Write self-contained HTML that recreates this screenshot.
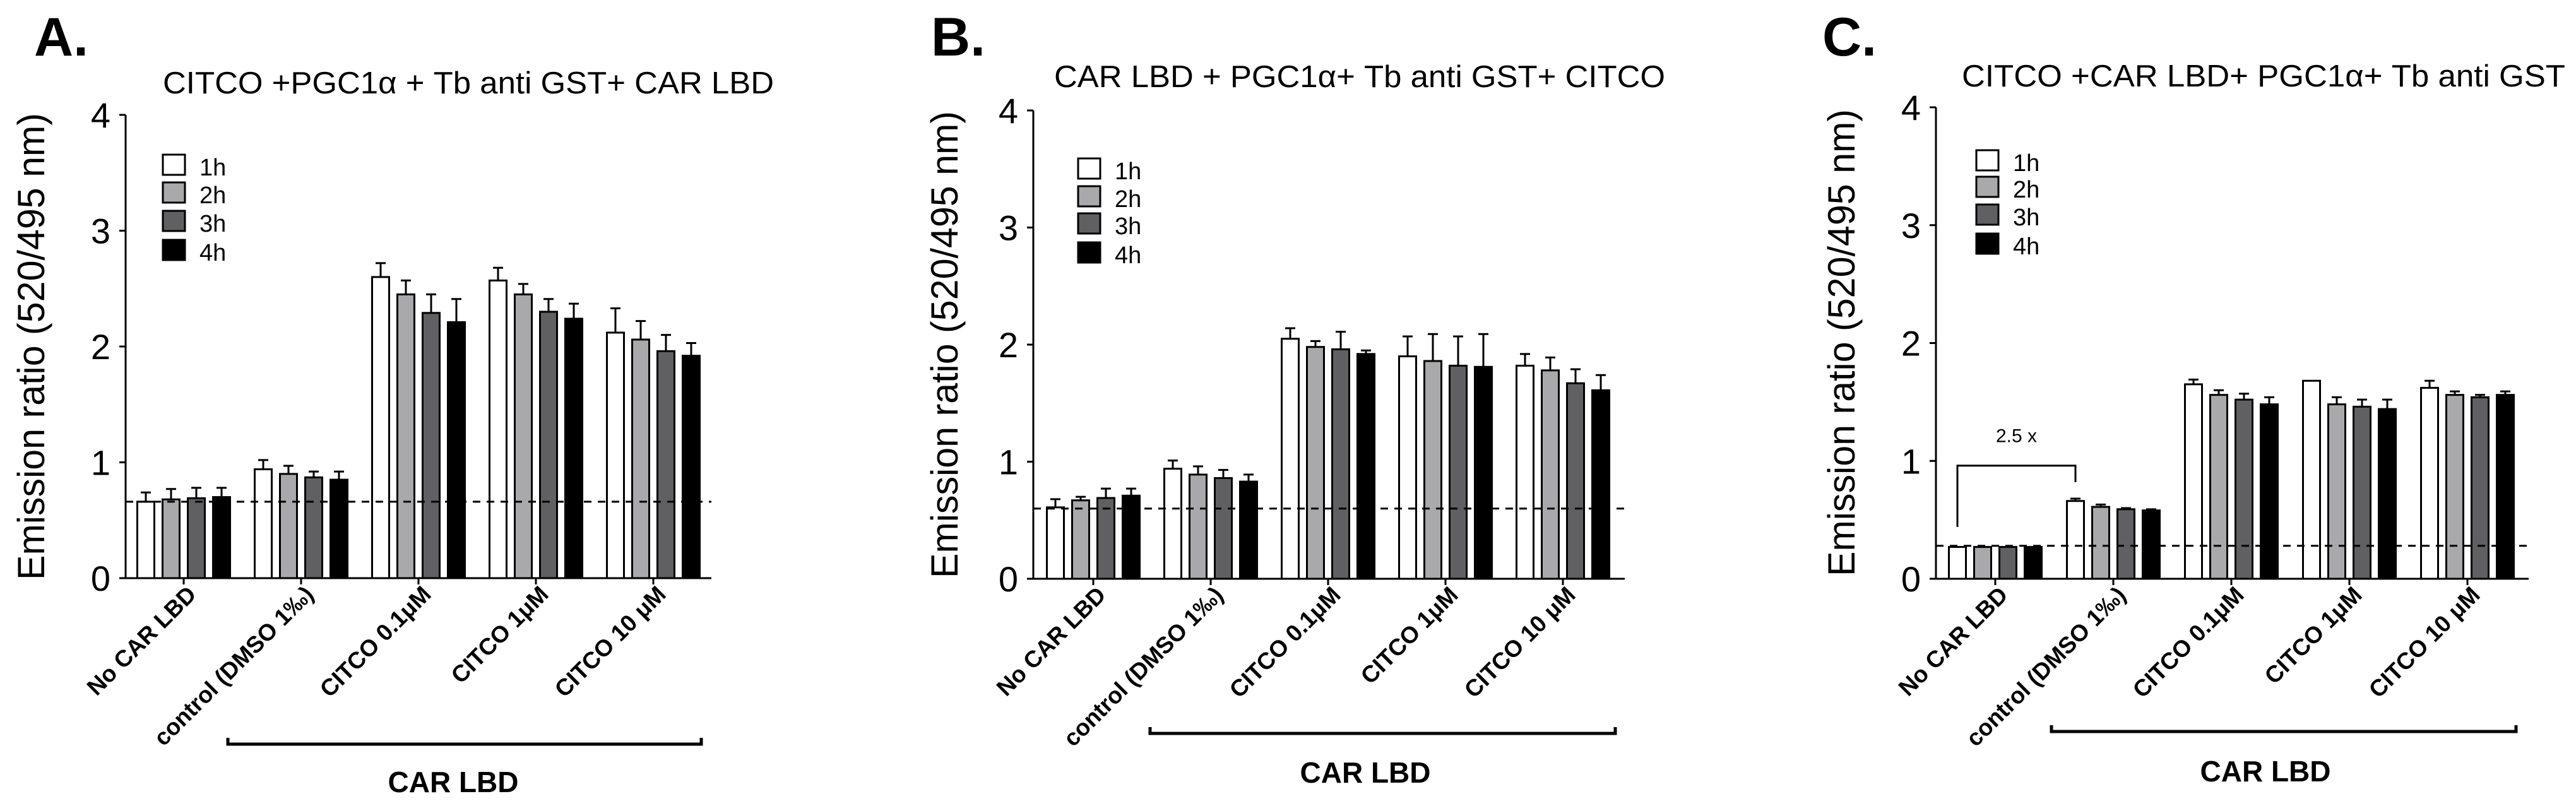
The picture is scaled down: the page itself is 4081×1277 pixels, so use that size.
<!DOCTYPE html>
<html><head><meta charset="utf-8"><style>
html,body{margin:0;padding:0;background:#fff;}
svg{display:block;font-family:"Liberation Sans",Arial,sans-serif;}
</style></head><body>
<svg id="fig" width="4081" height="1277" viewBox="0 0 4081 1277" xmlns="http://www.w3.org/2000/svg"></svg>
<script>
const categories = ["No CAR LBD","control (DMSO 1\u2030)","CITCO 0.1\u03bcM","CITCO 1\u03bcM","CITCO 10 \u03bcM"];
const seriesLabels = ["1h","2h","3h","4h"];
const yTicks = [0,1,2,3,4];
// Panel A
const a1h = [0.66,0.94,2.60,2.57,2.12];
const a2h = [0.68,0.90,2.45,2.45,2.06];
const a3h = [0.69,0.87,2.29,2.30,1.96];
const a4h = [0.70,0.85,2.21,2.24,1.92];
const a1hErr = [0.74,1.02,2.72,2.68,2.33];
const a2hErr = [0.77,0.97,2.57,2.54,2.22];
const a3hErr = [0.78,0.92,2.45,2.41,2.10];
const a4hErr = [0.78,0.92,2.41,2.37,2.03];
const aBaseline = 0.66;
// Panel B
const b1h = [0.61,0.94,2.05,1.90,1.82];
const b2h = [0.67,0.89,1.98,1.86,1.78];
const b3h = [0.69,0.86,1.96,1.82,1.67];
const b4h = [0.71,0.83,1.92,1.81,1.61];
const b1hErr = [0.68,1.01,2.14,2.07,1.92];
const b2hErr = [0.70,0.96,2.03,2.09,1.89];
const b3hErr = [0.77,0.93,2.11,2.07,1.79];
const b4hErr = [0.77,0.89,1.95,2.09,1.74];
const bBaseline = 0.60;
// Panel C
const c1h = [0.27,0.66,1.65,1.68,1.62];
const c2h = [0.27,0.61,1.56,1.48,1.56];
const c3h = [0.27,0.59,1.52,1.46,1.54];
const c4h = [0.27,0.58,1.48,1.44,1.56];
const c1hErr = [0.27,0.68,1.69,1.68,1.68];
const c2hErr = [0.27,0.63,1.60,1.54,1.59];
const c3hErr = [0.27,0.60,1.57,1.52,1.56];
const c4hErr = [0.27,0.59,1.54,1.52,1.59];
const cBaseline = 0.28;
const cFoldLabel = "2.5 x";
const cFoldTop = 0.96, cFoldLeft = 0.44, cFoldRight = 0.82, cFoldText = 1.16;

const NS="http://www.w3.org/2000/svg";
const svg=document.getElementById('fig');
const fills=["#ffffff","#a9a9ab","#606062","#000000"];
function mk(tag,attrs,parent,txt){const e=document.createElementNS(NS,tag);for(const k in attrs)e.setAttribute(k,attrs[k]);if(txt!==undefined)e.textContent=txt;(parent||svg).appendChild(e);return e;}

function panel(cfg){
  const g=mk('g',{});
  
  
  const unit=(cfg.y0-cfg.y4)/4;
  const yS=v=>cfg.y0-v*unit;
  const xS=i=>cfg.tick0+i*cfg.spacing;
  const offs=[-60,-20,20,60];
  const bw=27;
  let t=mk('text',{x:cfg.lx,y:88,'font-size':86,'font-weight':'bold'},g,cfg.letter);
  
  
  t=mk('text',{x:cfg.tx0,y:cfg.ty,'font-size':49,textLength:cfg.tx1-cfg.tx0,lengthAdjust:'spacingAndGlyphs'},g,cfg.title);
  
  
  t=mk('text',{x:0,y:0,'font-size':60,'text-anchor':'middle',textLength:740,lengthAdjust:'spacingAndGlyphs',transform:`translate(${cfg.ytx},${cfg.yty}) rotate(-90)`},g,'Emission ratio (520/495 nm)');
  
  
  cfg.series.forEach((vals,s)=>{
    vals.forEach((v,i)=>{
      const cx=xS(i)+offs[s];
      const r=mk('rect',{x:cx-bw/2,y:yS(v),width:bw,height:yS(0)-yS(v),fill:fills[s],stroke:'#000','stroke-width':3},g);
      
      
      const e=cfg.errs[s][i];
      if(e>v+0.005){
        const p=mk('path',{d:`M${cx} ${yS(v)}V${yS(e)}M${cx-8} ${yS(e)}H${cx+8}`,stroke:'#000','stroke-width':3,fill:'none'},g);
        
        
      }
    });
  });
  let d=mk('line',{x1:cfg.ax,x2:cfg.xEnd,y1:yS(cfg.base),y2:yS(cfg.base),stroke:'#000','stroke-width':3,'stroke-dasharray':'12 10'},g);
  
  
  let a=mk('path',{d:`M${cfg.ax} ${cfg.y4}V${cfg.y0}H${cfg.xEnd}`,stroke:'#000','stroke-width':3,fill:'none'},g);
  
  
  yTicks.forEach(v=>{
    mk('line',{x1:cfg.ax-10,x2:cfg.ax,y1:yS(v),y2:yS(v),stroke:'#000','stroke-width':3},g);
    const tl=mk('text',{x:cfg.ax-24,y:yS(v)+20,'font-size':56,'text-anchor':'end'},g,String(v));
    
    
  });
  categories.forEach((c,i)=>{
    mk('line',{x1:xS(i),x2:xS(i),y1:cfg.y0,y2:cfg.y0+10,stroke:'#000','stroke-width':3},g);
    const cl=mk('text',{x:0,y:0,'font-size':37,'font-weight':'bold','text-anchor':'end',transform:`translate(${xS(i)+22},${cfg.y0+28}) rotate(-45)`},g,c);
    
    
  });
  seriesLabels.forEach((s,k)=>{
    const top=cfg.legY[k];
    const lr=mk('rect',{x:cfg.legX,y:top,width:35,height:32,fill:fills[k],stroke:'#000','stroke-width':3},g);
    
    
    const lt=mk('text',{x:cfg.legX+58,y:top+33,'font-size':38},g,s);
    
    
  });
  const b=mk('path',{d:`M${cfg.bx0} ${cfg.by-10}V${cfg.by}H${cfg.bx1}V${cfg.by-10}`,stroke:'#000','stroke-width':5,fill:'none'},g);
  
  
  const bt=mk('text',{x:cfg.btx,y:cfg.bty,'font-size':46,'font-weight':'bold','text-anchor':'middle'},g,'CAR LBD');
  
  
  if(cfg.fold){
    const x0=xS(0)+offs[0], x1=xS(1)+offs[0];
    const fp=mk('path',{d:`M${x0} ${yS(cFoldLeft)}V${yS(cFoldTop)}H${x1}V${yS(cFoldRight)}`,stroke:'#000','stroke-width':3,fill:'none'},g);
    
    
    const ft=mk('text',{x:(x0+x1)/2,y:yS(cFoldText),'font-size':30,'text-anchor':'middle'},g,cFoldLabel);
    
    
  }
}

panel({id:'a',letter:'A.',lx:54,title:'CITCO +PGC1\u03b1 + Tb anti GST+ CAR LBD',tx0:258,tx1:1226,ty:148,
  ax:199,y0:916,y4:182,xEnd:1127,tick0:291,spacing:186,base:aBaseline,ytx:70,yty:549,
  series:[a1h,a2h,a3h,a4h],errs:[a1hErr,a2hErr,a3hErr,a4hErr],
  legX:258,legY:[245,289,334,380],bx0:361,bx1:1111,by:1179,btx:718,bty:1255});
panel({id:'b',letter:'B.',lx:1475,title:'CAR LBD + PGC1\u03b1+ Tb anti GST+ CITCO',tx0:1670,tx1:2638,ty:138,
  ax:1637,y0:917,y4:175,xEnd:2574,tick0:1732,spacing:186,base:bBaseline,ytx:1517,yty:546,
  series:[b1h,b2h,b3h,b4h],errs:[b1hErr,b2hErr,b3hErr,b4hErr],
  legX:1708,legY:[251,295,338,384],bx0:1822,bx1:2559,by:1162,btx:2163,bty:1240});
panel({id:'c',letter:'C.',lx:2887,title:'CITCO +CAR LBD+ PGC1\u03b1+ Tb anti GST',tx0:3108,tx1:4064,ty:137,
  ax:3067,y0:917,y4:170,xEnd:4006,tick0:3161,spacing:187,base:cBaseline,ytx:2938,yty:543,
  series:[c1h,c2h,c3h,c4h],errs:[c1hErr,c2hErr,c3hErr,c4hErr],fold:true,
  legX:3131,legY:[238,280,324,370],bx0:3250,bx1:3986,by:1159,btx:3589,bty:1238});
</script>
</body></html>
